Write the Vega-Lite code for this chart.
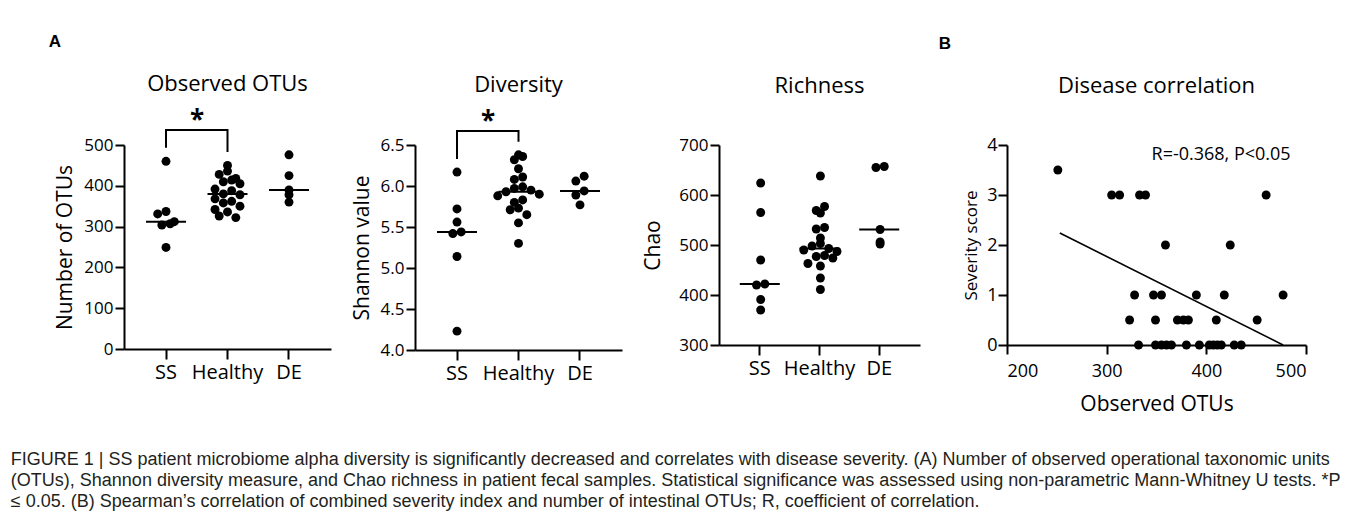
{
  "$schema": "https://vega.github.io/schema/vega-lite/v6.json",
  "padding": {"left": 10, "top": 33, "right": 5, "bottom": 5},
  "background": "white",
  "datasets": {
    "otus": [
      {"g": "SS", "v": 460}, {"g": "SS", "v": 337}, {"g": "SS", "v": 331}, {"g": "SS", "v": 312}, {"g": "SS", "v": 307}, {"g": "SS", "v": 304}, {"g": "SS", "v": 249},
      {"g": "Healthy", "v": 450}, {"g": "Healthy", "v": 436}, {"g": "Healthy", "v": 428}, {"g": "Healthy", "v": 418}, {"g": "Healthy", "v": 414}, {"g": "Healthy", "v": 410}, {"g": "Healthy", "v": 405}, {"g": "Healthy", "v": 392}, {"g": "Healthy", "v": 388}, {"g": "Healthy", "v": 380}, {"g": "Healthy", "v": 378}, {"g": "Healthy", "v": 368}, {"g": "Healthy", "v": 362}, {"g": "Healthy", "v": 358}, {"g": "Healthy", "v": 350}, {"g": "Healthy", "v": 342}, {"g": "Healthy", "v": 336}, {"g": "Healthy", "v": 326}, {"g": "Healthy", "v": 322},
      {"g": "DE", "v": 476}, {"g": "DE", "v": 425}, {"g": "DE", "v": 390}, {"g": "DE", "v": 378}, {"g": "DE", "v": 360}
    ],
    "shannon": [
      {"g": "SS", "v": 6.17}, {"g": "SS", "v": 5.72}, {"g": "SS", "v": 5.56}, {"g": "SS", "v": 5.44}, {"g": "SS", "v": 5.42}, {"g": "SS", "v": 5.14}, {"g": "SS", "v": 4.23},
      {"g": "Healthy", "v": 6.38}, {"g": "Healthy", "v": 6.36}, {"g": "Healthy", "v": 6.32}, {"g": "Healthy", "v": 6.21}, {"g": "Healthy", "v": 6.11}, {"g": "Healthy", "v": 6.08}, {"g": "Healthy", "v": 5.99}, {"g": "Healthy", "v": 5.97}, {"g": "Healthy", "v": 5.95}, {"g": "Healthy", "v": 5.93}, {"g": "Healthy", "v": 5.90}, {"g": "Healthy", "v": 5.88}, {"g": "Healthy", "v": 5.83}, {"g": "Healthy", "v": 5.80}, {"g": "Healthy", "v": 5.73}, {"g": "Healthy", "v": 5.71}, {"g": "Healthy", "v": 5.65}, {"g": "Healthy", "v": 5.55}, {"g": "Healthy", "v": 5.30},
      {"g": "DE", "v": 6.12}, {"g": "DE", "v": 6.06}, {"g": "DE", "v": 5.94}, {"g": "DE", "v": 5.89}, {"g": "DE", "v": 5.77}
    ],
    "chao": [
      {"g": "SS", "v": 624}, {"g": "SS", "v": 565}, {"g": "SS", "v": 470}, {"g": "SS", "v": 422}, {"g": "SS", "v": 420}, {"g": "SS", "v": 391}, {"g": "SS", "v": 370},
      {"g": "Healthy", "v": 638}, {"g": "Healthy", "v": 577}, {"g": "Healthy", "v": 569}, {"g": "Healthy", "v": 564}, {"g": "Healthy", "v": 535}, {"g": "Healthy", "v": 532}, {"g": "Healthy", "v": 514}, {"g": "Healthy", "v": 503}, {"g": "Healthy", "v": 498}, {"g": "Healthy", "v": 493}, {"g": "Healthy", "v": 490}, {"g": "Healthy", "v": 487}, {"g": "Healthy", "v": 479}, {"g": "Healthy", "v": 477}, {"g": "Healthy", "v": 474}, {"g": "Healthy", "v": 463}, {"g": "Healthy", "v": 458}, {"g": "Healthy", "v": 434}, {"g": "Healthy", "v": 411},
      {"g": "DE", "v": 657}, {"g": "DE", "v": 655}, {"g": "DE", "v": 531}, {"g": "DE", "v": 506}, {"g": "DE", "v": 502}
    ],
    "corr": [
      {"otus": 251, "score": 3.5}, {"otus": 305, "score": 3}, {"otus": 313, "score": 3}, {"otus": 333, "score": 3}, {"otus": 339, "score": 3}, {"otus": 460, "score": 3},
      {"otus": 359, "score": 2}, {"otus": 424, "score": 2},
      {"otus": 328, "score": 1}, {"otus": 347, "score": 1}, {"otus": 355, "score": 1}, {"otus": 390, "score": 1}, {"otus": 418, "score": 1}, {"otus": 477, "score": 1},
      {"otus": 323, "score": 0.5}, {"otus": 349, "score": 0.5}, {"otus": 371, "score": 0.5}, {"otus": 377, "score": 0.5}, {"otus": 382, "score": 0.5}, {"otus": 410, "score": 0.5}, {"otus": 451, "score": 0.5},
      {"otus": 332, "score": 0}, {"otus": 349, "score": 0}, {"otus": 355, "score": 0}, {"otus": 360, "score": 0}, {"otus": 365, "score": 0}, {"otus": 380, "score": 0}, {"otus": 393, "score": 0}, {"otus": 403, "score": 0}, {"otus": 407, "score": 0}, {"otus": 411, "score": 0}, {"otus": 415, "score": 0}, {"otus": 428, "score": 0}, {"otus": 435, "score": 0}
    ],
    "fit": [{"otus": 253, "score": 2.24}, {"otus": 477, "score": 0}],
    "note": [{"otus": 345, "score": 3.8, "label": "R=-0.368, P<0.05"}],
    "brk1": [{"g": "SS", "v": 493, "o": 1}, {"g": "SS", "v": 537, "o": 2}, {"g": "Healthy", "v": 537, "o": 3}, {"g": "Healthy", "v": 483, "o": 4}],
    "star1": [{"g": "SS", "v": 539}],
    "brk2": [{"g": "SS", "v": 6.33, "o": 1}, {"g": "SS", "v": 6.67, "o": 2}, {"g": "Healthy", "v": 6.67, "o": 3}, {"g": "Healthy", "v": 6.54, "o": 4}],
    "star2": [{"g": "SS", "v": 6.68}]
  },
  "title": {
    "text": [
      "FIGURE 1 | SS patient microbiome alpha diversity is significantly decreased and correlates with disease severity. (A) Number of observed operational taxonomic units",
      "(OTUs), Shannon diversity measure, and Chao richness in patient fecal samples. Statistical significance was assessed using non-parametric Mann-Whitney U tests. *P",
      "≤ 0.05. (B) Spearman’s correlation of combined severity index and number of intestinal OTUs; R, coefficient of correlation."
    ],
    "orient": "bottom",
    "anchor": "start",
    "frame": "bounds",
    "font": "Liberation Sans",
    "fontSize": 18,
    "fontWeight": "normal",
    "color": "#231f20",
    "lineHeight": 21,
    "offset": 37,
    "dx": -38
  },
  "spacing": 18,
  "hconcat": [
    {
      "title": {"text": "A", "anchor": "start", "font": "Liberation Sans", "fontSize": 17, "fontWeight": "bold", "offset": 22, "dx": -6},
      "spacing": 20,
      "hconcat": [
        {
          "width": 207, "height": 204,
          "title": {"text": "Observed OTUs", "offset": 12},
          "layer": [
            {
              "data": {"name": "otus"},
              "transform": [
                {"calculate": "floor(datum.v/26)", "as": "bin"},
                {"window": [{"op": "row_number", "as": "r"}, {"op": "count", "as": "n"}], "groupby": ["g", "bin"], "sort": [{"field": "v", "order": "descending"}], "frame": [null, null]},
                {"calculate": "(datum.r % 2 == 0 ? -datum.r/2 : (datum.r-1)/2) + (datum.n % 2 == 0 ? 0.5 : 0)", "as": "off"}
              ],
              "mark": {"type": "circle", "size": 80, "color": "black", "opacity": 1, "clip": false},
              "encoding": {
                "x": {"field": "g", "type": "nominal", "scale": {"type": "band", "domain": ["SS", "Healthy", "DE"], "paddingInner": 0, "paddingOuter": 0.183}, "axis": {"title": null, "labelFontSize": 20, "labelPadding": 3, "tickSize": 10}},
                "xOffset": {"field": "off", "type": "quantitative", "scale": {"domain": [-3.7, 3.7]}},
                "y": {"field": "v", "type": "quantitative", "scale": {"domain": [0, 500], "nice": false, "zero": false}, "axis": {"values": [0, 100, 200, 300, 400, 500], "title": "Number of OTUs"}}
              }
            },
            {
              "data": {"name": "otus"},
              "mark": {"type": "tick", "color": "black", "size": 40, "thickness": 2, "opacity": 1},
              "encoding": {"x": {"field": "g", "type": "nominal"}, "y": {"field": "v", "aggregate": "median", "type": "quantitative"}}
            },
            {
              "data": {"name": "brk1"},
              "mark": {"type": "line", "color": "black", "strokeWidth": 2, "clip": false},
              "encoding": {"x": {"field": "g", "type": "nominal"}, "y": {"field": "v", "type": "quantitative"}, "order": {"field": "o"}}
            },
            {
              "data": {"name": "star1"},
              "mark": {"type": "text", "text": "*", "fontSize": 26, "fontWeight": "bold", "dx": 31, "baseline": "alphabetic", "color": "black", "clip": false},
              "encoding": {"x": {"field": "g", "type": "nominal"}, "y": {"field": "v", "type": "quantitative"}}
            }
          ]
        },
        {
          "width": 207, "height": 205,
          "title": {"text": "Diversity", "offset": 12},
          "layer": [
            {
              "data": {"name": "shannon"},
              "transform": [
                {"calculate": "floor(datum.v/0.125)", "as": "bin"},
                {"window": [{"op": "row_number", "as": "r"}, {"op": "count", "as": "n"}], "groupby": ["g", "bin"], "sort": [{"field": "v", "order": "descending"}], "frame": [null, null]},
                {"calculate": "(datum.r % 2 == 0 ? -datum.r/2 : (datum.r-1)/2) + (datum.n % 2 == 0 ? 0.5 : 0)", "as": "off"}
              ],
              "mark": {"type": "circle", "size": 80, "color": "black", "opacity": 1, "clip": false},
              "encoding": {
                "x": {"field": "g", "type": "nominal", "scale": {"type": "band", "domain": ["SS", "Healthy", "DE"], "paddingInner": 0, "paddingOuter": 0.183}, "axis": {"title": null, "labelFontSize": 20, "labelPadding": 3, "tickSize": 10}},
                "xOffset": {"field": "off", "type": "quantitative", "scale": {"domain": [-3.7, 3.7]}},
                "y": {"field": "v", "type": "quantitative", "scale": {"domain": [4, 6.5], "nice": false, "zero": false}, "axis": {"values": [4, 4.5, 5, 5.5, 6, 6.5], "format": ".1f", "title": "Shannon value"}}
              }
            },
            {
              "data": {"name": "shannon"},
              "mark": {"type": "tick", "color": "black", "size": 40, "thickness": 2, "opacity": 1},
              "encoding": {"x": {"field": "g", "type": "nominal"}, "y": {"field": "v", "aggregate": "median", "type": "quantitative"}}
            },
            {
              "data": {"name": "brk2"},
              "mark": {"type": "line", "color": "black", "strokeWidth": 2, "clip": false},
              "encoding": {"x": {"field": "g", "type": "nominal"}, "y": {"field": "v", "type": "quantitative"}, "order": {"field": "o"}}
            },
            {
              "data": {"name": "star2"},
              "mark": {"type": "text", "text": "*", "fontSize": 26, "fontWeight": "bold", "dx": 31, "baseline": "alphabetic", "color": "black", "clip": false},
              "encoding": {"x": {"field": "g", "type": "nominal"}, "y": {"field": "v", "type": "quantitative"}}
            }
          ]
        },
        {
          "width": 201, "height": 200,
          "title": {"text": "Richness", "offset": 38},
          "layer": [
            {
              "data": {"name": "chao"},
              "transform": [
                {"calculate": "floor(datum.v/21)", "as": "bin"},
                {"window": [{"op": "row_number", "as": "r"}, {"op": "count", "as": "n"}], "groupby": ["g", "bin"], "sort": [{"field": "v", "order": "descending"}], "frame": [null, null]},
                {"calculate": "(datum.r % 2 == 0 ? -datum.r/2 : (datum.r-1)/2) + (datum.n % 2 == 0 ? 0.5 : 0)", "as": "off"}
              ],
              "mark": {"type": "circle", "size": 80, "color": "black", "opacity": 1, "clip": false},
              "encoding": {
                "x": {"field": "g", "type": "nominal", "scale": {"type": "band", "domain": ["SS", "Healthy", "DE"], "paddingInner": 0, "paddingOuter": 0.183}, "axis": {"title": null, "labelFontSize": 20, "labelPadding": 3, "tickSize": 10}},
                "xOffset": {"field": "off", "type": "quantitative", "scale": {"domain": [-3.7, 3.7]}},
                "y": {"field": "v", "type": "quantitative", "scale": {"domain": [300, 700], "nice": false, "zero": false}, "axis": {"values": [300, 400, 500, 600, 700], "title": "Chao", "titlePadding": 15}}
              }
            },
            {
              "data": {"name": "chao"},
              "mark": {"type": "tick", "color": "black", "size": 40, "thickness": 2, "opacity": 1},
              "encoding": {"x": {"field": "g", "type": "nominal"}, "y": {"field": "v", "aggregate": "median", "type": "quantitative"}}
            }
          ]
        }
      ]
    },
    {
      "title": {"text": "B", "anchor": "start", "font": "Liberation Sans", "fontSize": 17, "fontWeight": "bold", "offset": 22, "dx": -24},
      "hconcat": [
        {
          "width": 299, "height": 200,
          "title": {"text": "Disease correlation", "offset": 38},
          "layer": [
            {
              "data": {"name": "corr"},
              "mark": {"type": "circle", "size": 80, "color": "black", "opacity": 1, "clip": false},
              "encoding": {
                "x": {"field": "otus", "type": "quantitative", "scale": {"domain": [200, 500], "nice": false, "zero": false}, "axis": {"values": [200, 300, 400, 500], "title": "Observed OTUs", "labelFontSize": 18, "titleFontSize": 21, "labelPadding": 8, "titlePadding": 13, "tickSize": 9}},
                "y": {"field": "score", "type": "quantitative", "scale": {"domain": [0, 4], "nice": false, "zero": false}, "axis": {"values": [0, 1, 2, 3, 4], "title": "Severity score", "labelFontSize": 18, "titleFontSize": 17, "labelPadding": 1, "titlePadding": 6}}
              }
            },
            {
              "data": {"name": "fit"},
              "mark": {"type": "line", "color": "black", "strokeWidth": 1.6, "clip": false},
              "encoding": {"x": {"field": "otus", "type": "quantitative"}, "y": {"field": "score", "type": "quantitative"}}
            },
            {
              "data": {"name": "note"},
              "mark": {"type": "text", "align": "left", "baseline": "middle", "fontSize": 18, "color": "black", "font": "Open Sans"},
              "encoding": {"x": {"field": "otus", "type": "quantitative"}, "y": {"field": "score", "type": "quantitative"}, "text": {"field": "label"}}
            }
          ]
        }
      ]
    }
  ],
  "config": {
    "font": "Open Sans",
    "view": {"stroke": null},
    "axis": {
      "grid": false, "domainColor": "black", "domainWidth": 2, "tickColor": "black", "tickWidth": 2, "tickSize": 9,
      "labelColor": "black", "titleColor": "black", "labelFont": "Open Sans", "titleFont": "Open Sans", "titleFontWeight": "normal",
      "labelFontSize": 17, "titleFontSize": 21, "labelPadding": 2, "titlePadding": 8
    },
    "axisX": {"labelAngle": 0},
    "title": {"font": "Open Sans", "fontSize": 22, "fontWeight": "normal", "color": "black", "anchor": "middle"}
  }
}
